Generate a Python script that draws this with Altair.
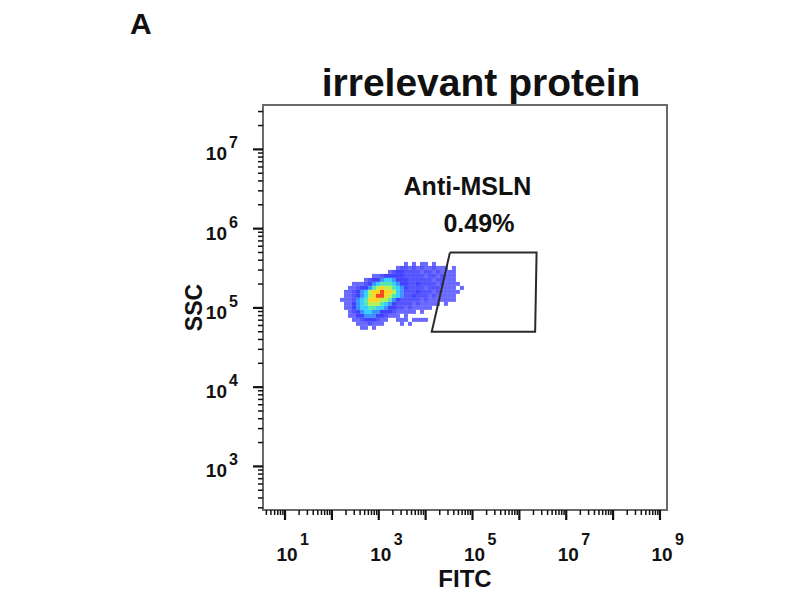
import altair as alt
import pandas as pd

# ---------------- data ----------------
W, H = 404, 405
X_DOMAIN = [10 ** 0.53, 10 ** 9.15]   # FITC axis range
Y_DOMAIN = [10 ** 2.45, 10 ** 7.56]   # SSC axis range

# 2-D density histogram of the event cloud (log10 bins)
FITC_LOG_START = 2.173   # left edge of first column (log10 FITC)
FITC_LOG_STEP = 0.0853
SSC_LOG_TOP = 5.580      # top edge of first row (log10 SSC)
SSC_LOG_STEP = 0.0504

DENSITY_ROWS = [
    "0000000000000000101011010000000",
    "0000000000000012212121121110100",
    "0000000000001233222212212111100",
    "0000000011233333222221221211100",
    "0000001233455433322222212211100",
    "0001112345666543322322221211110",
    "0011233467877654322221222111101",
    "0112345788988754222322212111110",
    "0112345789987654223222121111100",
    "1112456888776432222212111111100",
    "0113456777654322221211111010000",
    "0113455665543322121111100000000",
    "0012345544333211111010000000000",
    "0011334443321110100000000000000",
    "0001123332110011101111000000000",
    "0000111211100001010000000000000",
    "0000011010000000000000000000000",
]

LEVELS = [1, 2, 3, 4, 5, 6, 7, 8, 9]
LEVEL_COLORS = ["#2a2aff", "#1212ff", "#0000ff", "#0070ff", "#00c0ff",
                "#30e0a0", "#a8f030", "#ffcc00", "#f03000"]
LEVEL_OPACITY = [0.7, 0.88, 1, 1, 1, 1, 1, 1, 1]

# gate polygon
GATE_FITC = [3.3e4, 2.33e6, 2.17e6, 1.35e4, 3.3e4]
GATE_SSC = [5.0e5, 5.0e5, 5.0e4, 5.0e4, 5.0e5]

GATE_NAME = "Anti-MSLN"
GATE_PCT = "0.49%"
GATE_NAME_POS = (7.8e4, 2.66e6)
GATE_PCT_POS = (1.37e5, 9.0e5)

X_MAJOR_EXPS = [1, 2, 3, 4, 5, 6, 7, 8, 9]
Y_MAJOR_EXPS = [3, 4, 5, 6, 7]
X_LABEL_EXPS = [1, 3, 5, 7, 9]
Y_LABEL_EXPS = [3, 4, 5, 6, 7]

TITLE = "irrelevant protein"
PANEL = "A"
X_TITLE = "FITC"
Y_TITLE = "SSC"

# ---------------- build tables ----------------
cells = []
for r, row in enumerate(DENSITY_ROWS):
    for c, ch in enumerate(row):
        lv = int(ch)
        if lv == 0:
            continue
        cells.append({
            "x0": 10 ** (FITC_LOG_START + c * FITC_LOG_STEP),
            "x1": 10 ** (FITC_LOG_START + (c + 1) * FITC_LOG_STEP),
            "y0": 10 ** (SSC_LOG_TOP - r * SSC_LOG_STEP),
            "y1": 10 ** (SSC_LOG_TOP - (r + 1) * SSC_LOG_STEP),
            "level": lv,
        })
cells_df = pd.DataFrame(cells)

gate_df = pd.DataFrame({"fitc": GATE_FITC, "ssc": GATE_SSC, "i": list(range(len(GATE_FITC)))})

xs = alt.Scale(type="log", domain=X_DOMAIN, nice=False)
ys = alt.Scale(type="log", domain=Y_DOMAIN, nice=False)

x_minor = [m * 10 ** k for k in range(0, 10) for m in range(2, 10)
           if X_DOMAIN[0] <= m * 10 ** k <= X_DOMAIN[1]]
y_minor = [m * 10 ** k for k in range(2, 8) for m in range(2, 10)
           if Y_DOMAIN[0] <= m * 10 ** k <= Y_DOMAIN[1]]

FONT = "Liberation Sans"
INK = "#111"

cloud = alt.Chart(cells_df).mark_rect(strokeWidth=0).encode(
    x=alt.X("x0:Q", scale=xs, axis=None),
    x2="x1:Q",
    y=alt.Y("y0:Q", scale=ys, axis=None),
    y2="y1:Q",
    color=alt.Color("level:O", scale=alt.Scale(domain=LEVELS, range=LEVEL_COLORS), legend=None),
    opacity=alt.Opacity("level:O", scale=alt.Scale(domain=LEVELS, range=LEVEL_OPACITY), legend=None),
)

gate = alt.Chart(gate_df).mark_line(color="#2a2a2a", strokeWidth=2).encode(
    x=alt.X("fitc:Q", scale=xs, axis=None),
    y=alt.Y("ssc:Q", scale=ys, axis=None),
    order="i:Q",
)

ann_df = pd.DataFrame({
    "fitc": [GATE_NAME_POS[0], GATE_PCT_POS[0]],
    "ssc": [GATE_NAME_POS[1], GATE_PCT_POS[1]],
    "t": [GATE_NAME, GATE_PCT],
})
ann = alt.Chart(ann_df).mark_text(font=FONT, fontWeight="bold", fontSize=25,
                                  color=INK, align="center", baseline="alphabetic").encode(
    x=alt.X("fitc:Q", scale=xs, axis=None),
    y=alt.Y("ssc:Q", scale=ys, axis=None),
    text="t:N",
)

# ticks
xmaj_df = pd.DataFrame({"v": [10 ** e for e in X_MAJOR_EXPS]})
xmin_df = pd.DataFrame({"v": x_minor})
ymaj_df = pd.DataFrame({"v": [10 ** e for e in Y_MAJOR_EXPS]})
ymin_df = pd.DataFrame({"v": y_minor})

x_major_ticks = alt.Chart(xmaj_df).mark_rule(color=INK, strokeWidth=2.2).encode(
    x=alt.X("v:Q", scale=xs, axis=None), y=alt.value(H), y2=alt.value(H + 10))
x_minor_ticks = alt.Chart(xmin_df).mark_rule(color=INK, strokeWidth=1.5).encode(
    x=alt.X("v:Q", scale=xs, axis=None), y=alt.value(H), y2=alt.value(H + 5))
y_major_ticks = alt.Chart(ymaj_df).mark_rule(color=INK, strokeWidth=2.2).encode(
    y=alt.Y("v:Q", scale=ys, axis=None), x=alt.value(0), x2=alt.value(-10))
y_minor_ticks = alt.Chart(ymin_df).mark_rule(color=INK, strokeWidth=1.5).encode(
    y=alt.Y("v:Q", scale=ys, axis=None), x=alt.value(0), x2=alt.value(-5))

# tick labels  10^n
xl_df = pd.DataFrame({"v": [10 ** e for e in X_LABEL_EXPS], "e": [str(e) for e in X_LABEL_EXPS]})
x_base = alt.Chart(xl_df).mark_text(font=FONT, fontWeight="bold", fontSize=19, color=INK,
                                    align="center", baseline="middle", dx=2).encode(
    x=alt.X("v:Q", scale=xs, axis=None), y=alt.value(H + 45), text=alt.value("10"))
x_exp = alt.Chart(xl_df).mark_text(font=FONT, fontWeight="bold", fontSize=16, color=INK,
                                   align="left", baseline="middle", dx=15).encode(
    x=alt.X("v:Q", scale=xs, axis=None), y=alt.value(H + 30), text="e:N")

yl_df = pd.DataFrame({"v": [10 ** e for e in Y_LABEL_EXPS], "e": [str(e) for e in Y_LABEL_EXPS]})
y_base = alt.Chart(yl_df).mark_text(font=FONT, fontWeight="bold", fontSize=19, color=INK,
                                    align="right", baseline="middle", dy=5).encode(
    y=alt.Y("v:Q", scale=ys, axis=None), x=alt.value(-36), text=alt.value("10"))
y_exp = alt.Chart(yl_df).mark_text(font=FONT, fontWeight="bold", fontSize=16, color=INK,
                                   align="left", baseline="middle", dy=-6).encode(
    y=alt.Y("v:Q", scale=ys, axis=None), x=alt.value(-34), text="e:N")

one = pd.DataFrame({"t": [TITLE], "a": [PANEL], "xt": [X_TITLE], "yt": [Y_TITLE]})
title_mark = alt.Chart(one).mark_text(font=FONT, fontWeight="bold", fontSize=39, color=INK,
                                      align="center", baseline="alphabetic").encode(
    x=alt.value(218), y=alt.value(-9), text="t:N")
panel_mark = alt.Chart(one).mark_text(font=FONT, fontWeight="bold", fontSize=30, color=INK,
                                      align="left", baseline="alphabetic").encode(
    x=alt.value(-133), y=alt.value(-71), text="a:N")
xt_mark = alt.Chart(one).mark_text(font=FONT, fontWeight="bold", fontSize=24, color=INK,
                                   align="center", baseline="middle").encode(
    x=alt.value(W / 2), y=alt.value(H + 70), text="xt:N")
yt_mark = alt.Chart(one).mark_text(font=FONT, fontWeight="bold", fontSize=23, color=INK,
                                   align="center", baseline="middle", angle=270).encode(
    x=alt.value(-68), y=alt.value(H / 2), text="yt:N")

chart = alt.layer(
    cloud, gate, ann,
    x_minor_ticks, x_major_ticks, y_minor_ticks, y_major_ticks,
    x_base, x_exp, y_base, y_exp,
    title_mark, panel_mark, xt_mark, yt_mark,
).properties(
    width=W, height=H,
    padding={"left": 255, "top": 97, "right": 120, "bottom": 86},
    autosize=alt.AutoSizeParams(type="none"),
    background="white",
).configure_view(stroke="#6a6a6a", strokeWidth=2)

chart.save("out.html", embed_options={"renderer": "svg", "actions": False})
